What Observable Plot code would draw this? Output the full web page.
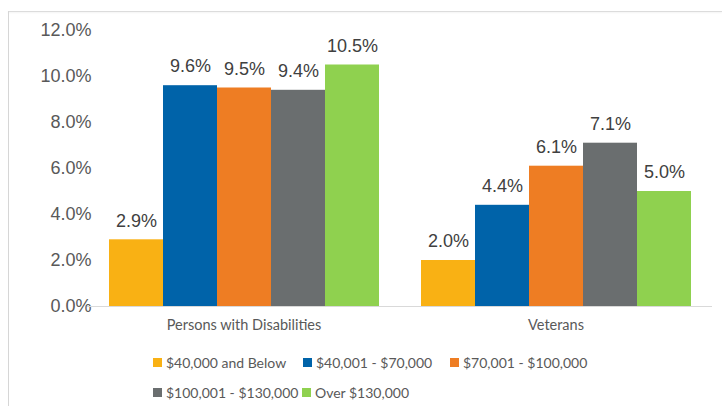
<!DOCTYPE html>
<html>
<head>
<meta charset="utf-8">
<script src="https://cdn.jsdelivr.net/npm/d3@7"></script>
<script src="https://cdn.jsdelivr.net/npm/@observablehq/plot@0.6"></script>
<style>
  html, body { margin: 0; padding: 0; background: #fff; }
  #wrap { position: relative; width: 722px; height: 406px; overflow: hidden; }
  #frameTop { position: absolute; left: 8px; top: 11px; width: 714px; height: 1px; background: #dcdcdc; box-shadow: 0 1px 2px #eee; }
  #frameLeft { position: absolute; left: 8px; top: 11px; width: 1px; height: 395px; background: #d6d6d6; }
  #chart { position: absolute; left: 0; top: 0; }
  .leg { position: absolute; font-family: Lato, "Open Sans", sans-serif; font-size: 14px; color: #595959; white-space: nowrap; display: flex; align-items: center; }
  .leg span.sw { display: inline-block; width: 9px; height: 9px; margin-right: 4px; }
</style>
</head>
<body>
<div id="wrap">
  <div id="frameTop"></div>
  <div id="frameLeft"></div>
  <div id="chart"></div>
  <div id="legend"></div>
</div>
<script>
const categories = ["Persons with Disabilities", "Veterans"];
const incomes = ["$40,000 and Below", "$40,001 - $70,000", "$70,001 - $100,000", "$100,001 - $130,000", "Over $130,000"];
const disabilitiesValues = [2.9, 9.6, 9.5, 9.4, 10.5];
const veteransValues = [2.0, 4.4, 6.1, 7.1, 5.0];
const yTicks = [0, 2, 4, 6, 8, 10, 12];
const colors = ["#F9B114", "#0063A9", "#EE7D23", "#6A6E6F", "#8FD14F"];

const series = [disabilitiesValues, veteransValues];
const data = categories.flatMap((c, i) => incomes.map((inc, j) => ({category: c, income: inc, value: series[i][j]})));

const plot = Plot.plot({
  width: 722,
  height: 345,
  marginTop: 30,
  marginBottom: 39,
  marginLeft: 88,
  marginRight: 10,
  style: {background: "transparent", color: "#595959"},
  fx: {domain: categories, paddingInner: 0.13, paddingOuter: 0.065, label: null},
  x: {domain: incomes, padding: 0, axis: null},
  y: {domain: [0, 12], label: null},
  color: {domain: incomes, range: colors},
  marks: [
    Plot.axisY({ticks: yTicks, tickFormat: d => d.toFixed(1) + "%", tickSize: 0, tickPadding: 17, fontSize: 18, fontFamily: "Liberation Sans, Arial, sans-serif", label: null}),
    Plot.axisFx({anchor: "bottom", tickSize: 0, tickPadding: 13, fontSize: 14.5, fontFamily: "Lato, sans-serif", label: null}),
    Plot.barY(data, {fx: "category", x: "income", y: "value", fill: "income"}),
    Plot.ruleY([0], {stroke: "#d9d9d9", strokeWidth: 1.2, insetLeft: -21, insetRight: -21}),
    Plot.text(data, {fx: "category", x: "income", y: "value", text: d => d.value.toFixed(1) + "%", dy: -19, fontSize: 18, fontFamily: "Liberation Sans, Arial, sans-serif", fill: "#404040"})
  ]
});
document.getElementById("chart").appendChild(plot);

// legend
const legendPos = [
  {x: 153, y: 362}, {x: 303, y: 362}, {x: 450, y: 362},
  {x: 153, y: 392}, {x: 302, y: 392}
];
const legend = document.getElementById("legend");
incomes.forEach((inc, i) => {
  const d = document.createElement("div");
  d.className = "leg";
  d.style.left = legendPos[i].x + "px";
  d.style.top = (legendPos[i].y - 9) + "px";
  d.style.height = "18px";
  const sw = document.createElement("span");
  sw.className = "sw";
  sw.style.background = colors[i];
  d.appendChild(sw);
  d.appendChild(document.createTextNode(inc));
  legend.appendChild(d);
});
</script>
</body>
</html>
